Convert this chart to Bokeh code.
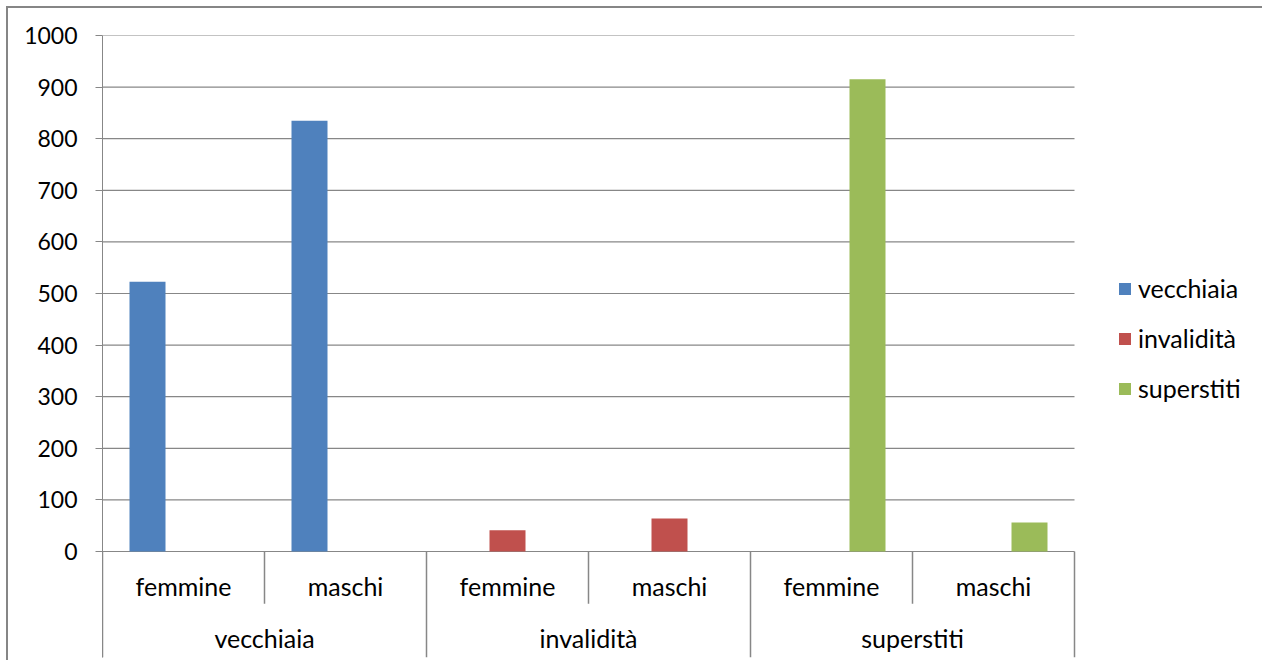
from bokeh.plotting import figure
from bokeh.models import Range1d, Legend, LegendItem
from bokeh.embed import file_html
from bokeh.resources import INLINE
from bokeh.core.properties import value

# ---- data ----
groups = ["vecchiaia", "invalidità", "superstiti"]
sexes = ["femmine", "maschi"]
series_names = ["vecchiaia", "invalidità", "superstiti"]
vecchiaia = [523, 835, 0, 0, 0, 0]
invalidita = [0, 0, 41, 64, 0, 0]
superstiti = [0, 0, 0, 0, 915, 56]
y_ticks = [0, 100, 200, 300, 400, 500, 600, 700, 800, 900, 1000]

colors = ["#4F81BD", "#C0504D", "#9BBB59"]
FONT = "Lato"
GRID = "#878787"
FS = "25px"
TFS = "23px"

ncat = len(groups) * len(sexes)
y_min = -205.4

W, H = 1256, 654
left, top, bottom = 94, 27, 5
cat_px = 162.0
x_max = (W - left) / cat_px

p = figure(width=W, height=H, output_backend="svg", toolbar_location=None,
           x_range=Range1d(0, x_max), y_range=Range1d(y_min, y_ticks[-1]),
           x_axis_type=None,
           min_border_left=left, min_border_right=0, min_border_top=top, min_border_bottom=bottom)
p.outline_line_color = None
p.background_fill_color = "white"
p.border_fill_color = "white"
p.styles = {"border-top": "2px solid #868686", "border-left": "2px solid #868686",
            "margin": "6px 0 0 6px"}

# y axis
p.yaxis.ticker = y_ticks
p.yaxis.axis_line_color = GRID
p.yaxis.major_tick_line_color = GRID
p.yaxis.major_tick_out = 7
p.yaxis.major_tick_in = 0
p.yaxis.minor_tick_line_color = None
p.yaxis.major_label_standoff = 18
p.yaxis.major_label_text_font = FONT
p.yaxis.major_label_text_font_size = TFS
p.yaxis.major_label_text_color = "black"
p.ygrid.visible = False

# horizontal gridlines limited to the category area
p.segment(x0=[0] * len(y_ticks), y0=y_ticks, x1=[ncat] * len(y_ticks), y1=y_ticks,
          line_color=GRID, line_width=1.2)

# bars
bw = 1.0 / (len(series_names) + 1.5)
offsets = [(k - (len(series_names) - 1) / 2) * bw for k in range(len(series_names))]
items = []
for k, (name, vals, col) in enumerate(zip(series_names, [vecchiaia, invalidita, superstiti], colors)):
    xs = [i + 0.5 + offsets[k] for i in range(ncat)]
    r = p.vbar(x=xs, top=vals, bottom=0, width=bw, fill_color=col, line_color=None)
    items.append(LegendItem(label=name, renderers=[r]))

# category axis (two levels) with separators
sub_x = [i + 0.5 for i in range(ncat)]
sub_text = [sexes[i % len(sexes)] for i in range(ncat)]
grp_x = [g * len(sexes) + len(sexes) / 2 for g in range(len(groups))]
p.text(x=sub_x, y=-66, text=sub_text, text_font=value(FONT), text_font_size=FS,
       text_align="center", text_baseline="middle", text_color="black")
p.text(x=grp_x, y=-167, text=groups, text_font=value(FONT), text_font_size=FS,
       text_align="center", text_baseline="middle", text_color="black")

sep_x = list(range(ncat + 1))
sep_end = [y_min if i % len(sexes) == 0 else -101 for i in sep_x]
p.segment(x0=sep_x, y0=[0] * len(sep_x), x1=sep_x, y1=sep_end, line_color=GRID, line_width=1.5)

legend = Legend(items=items, location=(1015, 254), margin=0, padding=0,
                label_text_font=FONT, label_text_font_size=FS, label_text_color="black",
                glyph_width=15, glyph_height=15, label_standoff=6, label_height=30,
                spacing=20, border_line_color=None, background_fill_alpha=0)
p.add_layout(legend, "center")

open("out.html", "w").write(file_html(p, INLINE))
